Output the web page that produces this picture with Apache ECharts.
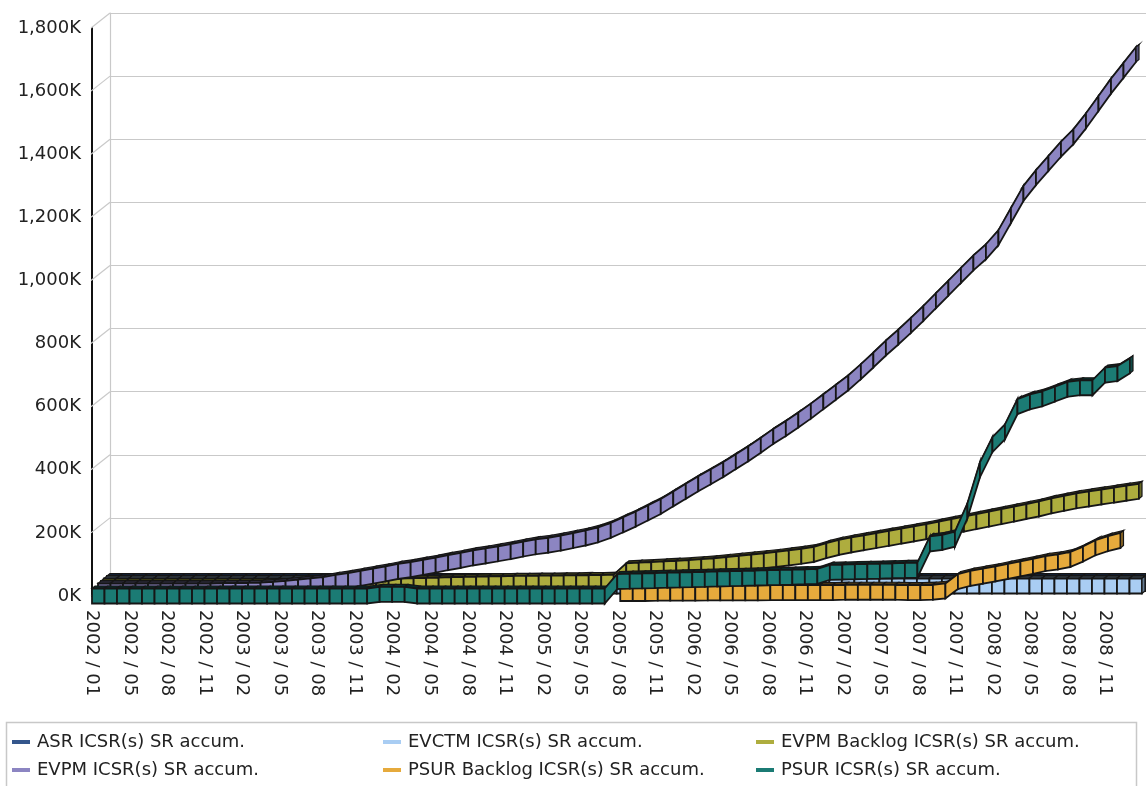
<!DOCTYPE html>
<html>
<head>
<meta charset="utf-8">
<script src="https://cdn.jsdelivr.net/npm/echarts@6/dist/echarts.min.js"></script>
<style>
  html, body { margin: 0; padding: 0; background: #ffffff; }
  #chart { width: 1146px; height: 786px; }
</style>
</head>
<body>
<div id="chart"></div>
<script>
// Reporting months (2002 / 03 has no entry)
const months = [
  '2002 / 01','2002 / 02','2002 / 04','2002 / 05','2002 / 06','2002 / 07','2002 / 08','2002 / 09','2002 / 10','2002 / 11','2002 / 12',
  '2003 / 01','2003 / 02','2003 / 03','2003 / 04','2003 / 05','2003 / 06','2003 / 07','2003 / 08','2003 / 09','2003 / 10','2003 / 11','2003 / 12',
  '2004 / 01','2004 / 02','2004 / 03','2004 / 04','2004 / 05','2004 / 06','2004 / 07','2004 / 08','2004 / 09','2004 / 10','2004 / 11','2004 / 12',
  '2005 / 01','2005 / 02','2005 / 03','2005 / 04','2005 / 05','2005 / 06','2005 / 07','2005 / 08','2005 / 09','2005 / 10','2005 / 11','2005 / 12',
  '2006 / 01','2006 / 02','2006 / 03','2006 / 04','2006 / 05','2006 / 06','2006 / 07','2006 / 08','2006 / 09','2006 / 10','2006 / 11','2006 / 12',
  '2007 / 01','2007 / 02','2007 / 03','2007 / 04','2007 / 05','2007 / 06','2007 / 07','2007 / 08','2007 / 09','2007 / 10','2007 / 11','2007 / 12',
  '2008 / 01','2008 / 02','2008 / 03','2008 / 04','2008 / 05','2008 / 06','2008 / 07','2008 / 08','2008 / 09','2008 / 10','2008 / 11','2008 / 12',
  '2009 / 01'
];

// Accumulated ICSR counts, in thousands
const asrAccum = [
  0,0,0,0,0,0,0,0,0,0,0, 0,0,0,0,0,0,0,0,0,0,0,0, 0,0,0,0,0,0,0,0,0,0,0,0,
  0,0,0,0,0,0,0,0,0,0,0,0, 0,0,0,0,0,0,0,0,0,0,0,0, 0,0,0,0,0,0,0,0,0,0,0,0,
  0,0,0,0,0,0,0,0,0,0,0,0, 0
];
const evctmAccum = [
  0,0,0,0,0,0,0,0,0,0,0, 0,0,0,0,0,0,0,0,0,0,0,0, 0,0,0,0,0,0,0,0,0,0,0,0,
  0,0,0,0,0,0,0,0,0,0,0,0, 0,0,0,0,0,0,0,0,0,0,0,0, 0,0,0,0,0,0,0,0,0,0,0,0,
  0,0,0,0,0,0,0,0,0,0,0,0, 0
];
const evpmBacklogAccum = [
  0,0,0,0,0,0,0,0,0,0,0, 0,0,0,0,0,0,0,2,3,4,5,6, 7,8,9,10,11,12,13,14,15,15,16,16,
  17,17,18,18,19,19,20,56,58,60,62,64, 66,69,72,76,80,84,88,92,97,102,108,120,
  130,138,145,152,159,166,173,180,188,196,204,212, 220,228,236,244,252,262,270,278,284,290,296,302,
  308
];
const evpmAccum = [
  0,0,0,0,0,0,0,0,0,0,1, 1,2,3,5,8,12,16,20,27,33,40,47, 54,62,68,75,82,90,97,105,111,118,125,133,
  140,145,152,160,168,178,192,210,228,248,268,292, 316,340,362,385,410,435,462,490,515,542,570,600,
  630,660,695,732,770,805,842,880,920,960,1000,1040, 1075,1120,1190,1260,1310,1355,1400,1440,1490,1545,1600,1650,
  1700
];
const psurBacklogAccum = [
  null,null,null,null,null,null,null,null,null,null,null, null,null,null,null,null,null,null,null,null,null,null,null,
  null,null,null,null,null,null,null,null,null,null,null,null, null,null,null,null,null,null,null,0,0,0,1,1,
  1,1,2,2,2,2,2,3,3,3,3,3, 3,4,4,4,4,4,3,3,4,8,38,48,
  55,62,70,78,86,95,100,108,125,145,158,
  168
];
const psurAccum = [
  0,0,0,0,0,0,0,0,0,0,0, 0,0,0,0,0,0,0,0,0,0,0,0, 5,5,5,0,0,0,0,0,0,0,0,0,
  0,0,0,0,0,0,0,46,47,48,49,50, 51,52,53,54,55,56,57,58,59,60,61,62,
  75,76,77,78,79,80,81,82,165,170,180,270, 400,480,520,600,615,625,640,655,660,660,700,705,
  730
];

const yTicks = [0, 200, 400, 600, 800, 1000, 1200, 1400, 1600, 1800];

const seriesDefs = [
  { name: 'ASR ICSR(s) SR accum.',          data: asrAccum,         color: '#34568c' },
  { name: 'EVCTM ICSR(s) SR accum.',        data: evctmAccum,       color: '#a9cdf3' },
  { name: 'EVPM Backlog ICSR(s) SR accum.', data: evpmBacklogAccum, color: '#aead3e' },
  { name: 'EVPM ICSR(s) SR accum.',         data: evpmAccum,        color: '#8c85c2' },
  { name: 'PSUR Backlog ICSR(s) SR accum.', data: psurBacklogAccum, color: '#e6aa3c' },
  { name: 'PSUR ICSR(s) SR accum.',         data: psurAccum,        color: '#1b7b74' }
];

// 3D ribbon geometry (pixels)
const STEP_X = 3, STEP_Y = 2.5;   // depth slot of one ribbon
const FACE = 15;                  // thickness of a ribbon's front face
const EDGE = '#161616';
const DEPTH_X = STEP_X * seriesDefs.length, DEPTH_Y = STEP_Y * seriesDefs.length;

function shade(hex, k) {
  const n = parseInt(hex.slice(1), 16);
  const r = Math.round(((n >> 16) & 255) * k), g = Math.round(((n >> 8) & 255) * k), b = Math.round((n & 255) * k);
  return 'rgb(' + r + ',' + g + ',' + b + ')';
}

function segmentsOf(arr) {
  const out = [];
  let last = -1;
  arr.forEach((v, i) => { if (v != null) last = i; });
  for (let i = 0; i < arr.length - 1; i++) {
    if (arr[i] != null && arr[i + 1] != null) out.push([i, arr[i], arr[i + 1], i + 1 === last ? 1 : 0]);
  }
  return out;
}

function ribbonRenderer(depth, color) {
  const topCol = shade(color, 0.35);
  const capCol = shade(color, 0.6);
  return function (params, api) {
    const i = api.value(0);
    const a = api.coord([i, api.value(1)]);
    const b = api.coord([i + 1, api.value(2)]);
    const ox = STEP_X * depth, oy = -STEP_Y * depth;
    const x0 = a[0] + ox, y0 = a[1] + oy, x1 = b[0] + ox, y1 = b[1] + oy;
    const h = FACE / 2;
    const children = [
      { type: 'polygon',
        shape: { points: [[x0, y0 - h], [x1, y1 - h], [x1 + STEP_X, y1 - h - STEP_Y], [x0 + STEP_X, y0 - h - STEP_Y]] },
        style: { fill: topCol, stroke: EDGE, lineWidth: 1.2 } },
      { type: 'polygon',
        shape: { points: [[x0, y0 - h], [x1, y1 - h], [x1, y1 + h], [x0, y0 + h]] },
        style: { fill: color, stroke: EDGE, lineWidth: 1.8 } }
    ];
    if (api.value(3) === 1) {
      children.push({ type: 'polygon',
        shape: { points: [[x1, y1 - h], [x1 + STEP_X, y1 - h - STEP_Y], [x1 + STEP_X, y1 + h - STEP_Y], [x1, y1 + h]] },
        style: { fill: capCol, stroke: EDGE, lineWidth: 1.2 } });
    }
    return { type: 'group', children: children };
  };
}

const FONT = 'DejaVu Sans';
const ribbonSeries = seriesDefs.map((s, k) => ({
  name: s.name,
  type: 'custom',
  xAxisIndex: 0, yAxisIndex: 0,
  z: 3,
  clip: false,
  itemStyle: { color: s.color },
  encode: { x: 0, y: [1, 2] },
  renderItem: ribbonRenderer(seriesDefs.length - 1 - k, s.color),
  data: segmentsOf(s.data)
}));

// Short side-wall lines joining the front value axis to the back wall
const wallStubs = {
  type: 'custom', xAxisIndex: 0, yAxisIndex: 0, z: 1, clip: false, silent: true,
  renderItem: function (params, api) {
    const p = api.coord([0, api.value(1)]);
    return { type: 'line', shape: { x1: p[0] - 1, y1: p[1], x2: p[0] + DEPTH_X, y2: p[1] - DEPTH_Y },
             style: { stroke: '#c9c9c9', lineWidth: 1.2 } };
  },
  data: yTicks.map(v => [0, v])
};

const legendSlots = [
  { left: 12,  top: 733 }, { left: 383, top: 733 }, { left: 756, top: 733 },
  { left: 12,  top: 761 }, { left: 383, top: 761 }, { left: 756, top: 761 }
];

const chart = echarts.init(document.getElementById('chart'), null, { renderer: 'canvas' });
chart.setOption({
  animation: false,
  backgroundColor: '#ffffff',
  textStyle: { fontFamily: FONT },
  grid: [
    { left: 92, right: 16, top: 28, bottom: 190 },
    { left: 92 + DEPTH_X, right: 0, top: 28 - DEPTH_Y, bottom: 190 + DEPTH_Y }
  ],
  xAxis: [
    { type: 'category', gridIndex: 0, data: months, boundaryGap: false,
      axisLine: { show: false }, axisTick: { show: false },
      axisLabel: { interval: 2, rotate: -90, margin: 14, fontSize: 18, color: '#222', fontFamily: FONT } },
    { type: 'category', gridIndex: 1, data: months, boundaryGap: false, show: false }
  ],
  yAxis: [
    { type: 'value', gridIndex: 0, min: 0, max: 1800, interval: 200,
      axisLine: { show: true, lineStyle: { color: '#111', width: 2 } },
      axisTick: { show: false }, splitLine: { show: false },
      axisLabel: { margin: 11, fontSize: 18, color: '#222', fontFamily: FONT,
        formatter: v => v.toLocaleString('en-US') + 'K' } },
    { type: 'value', gridIndex: 1, min: 0, max: 1800, interval: 200,
      axisLine: { show: true, lineStyle: { color: '#c9c9c9', width: 1.2 } },
      axisTick: { show: false }, axisLabel: { show: false },
      splitLine: { show: true, lineStyle: { color: '#c9c9c9', width: 1.2 } } }
  ],
  legend: seriesDefs.map((s, j) => ({
    data: [s.name],
    left: legendSlots[j].left, top: legendSlots[j].top,
    orient: 'horizontal', padding: 0,
    icon: 'rect', itemWidth: 18, itemHeight: 4, itemGap: 0,
    textStyle: { fontSize: 18, color: '#222', fontFamily: FONT, padding: [0, 0, 0, 2] },
    selectedMode: false
  })),
  graphic: [
    { type: 'rect', shape: { x: 6.5, y: 722.5, width: 1130, height: 80 },
      style: { fill: 'none', stroke: '#c8c8c8', lineWidth: 1.5 }, z: 0 }
  ],
  series: [wallStubs].concat(ribbonSeries)
});
</script>
</body>
</html>
